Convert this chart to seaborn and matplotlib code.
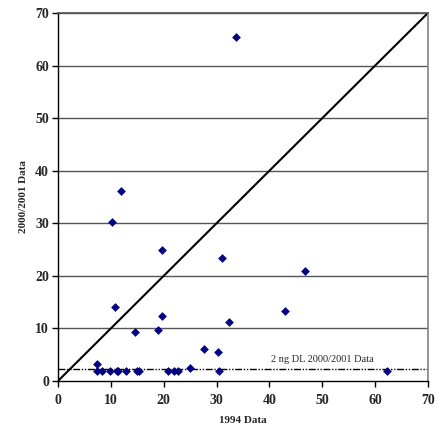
import seaborn as sns
import matplotlib.pyplot as plt
import pandas

# 1994 vs 2000/2001 values
data_1994 = [33.6, 12.0, 10.3, 19.6, 31.1, 46.7, 10.7, 42.9, 19.6, 32.3,
             14.5, 18.9, 27.7, 30.3, 7.3, 25.0,
             7.3, 8.4, 9.9, 11.1, 11.4, 12.8, 15.0, 15.4, 20.9, 22.0, 22.8, 30.5, 62.2]
data_2000 = [65.5, 36.2, 30.2, 25.0, 23.4, 20.9, 14.1, 13.3, 12.3, 11.2,
             9.3, 9.7, 6.1, 5.5, 3.2, 2.5,
             1.9, 1.9, 1.9, 1.9, 1.9, 1.9, 1.9, 1.9, 1.9, 1.9, 1.9, 1.9, 1.9]
dl_value = 2.3
ticks = [0, 10, 20, 30, 40, 50, 60, 70]

df = pandas.DataFrame({"x": data_1994, "y": data_2000})

sns.set_theme(style="white")
plt.rcParams["font.family"] = ["Liberation Serif", "DejaVu Serif"]

fig = plt.figure(figsize=(4.39, 4.32), dpi=100)
ax = fig.add_axes([0.132, 0.118, 0.843, 0.852])

for t in ticks[1:]:
    ax.axhline(t, color="#555555", lw=1.0, zorder=0)

ax.plot([0, 70], [0, 70], color="black", lw=1.5, zorder=1)
ax.plot([0, 70], [dl_value, dl_value], color="black", lw=1.0,
        dashes=[5, 1.2, 1, 1.2, 1, 1.2], zorder=1)
ax.text(50, dl_value + 0.9, "2 ng DL 2000/2001 Data", fontsize=7.5,
        ha="center", va="bottom")

sns.scatterplot(data=df, x="x", y="y", marker="D", s=20, color="#000080",
                edgecolor="#000080", linewidth=0, ax=ax, zorder=3)

ax.set_xlim(0, 70)
ax.set_ylim(0, 70)
ax.set_xticks(ticks)
ax.set_yticks(ticks)
ax.set_xticklabels([str(t) for t in ticks], fontsize=10, fontweight="bold")
ax.set_yticklabels([str(t) for t in ticks], fontsize=10, fontweight="bold")
ax.tick_params(axis="both", direction="out", length=4, width=1, color="black",
               bottom=True, left=True)
ax.tick_params(axis="x", pad=5)
ax.tick_params(axis="y", pad=2.5)
ax.set_xlabel("1994 Data", fontsize=8, fontweight="bold", labelpad=7)
ax.set_ylabel("2000/2001 Data", fontsize=8, fontweight="bold", labelpad=5)

for side in ["left", "bottom"]:
    ax.spines[side].set_color("black")
    ax.spines[side].set_linewidth(1.0)
ax.spines["top"].set_color("#555555")
ax.spines["right"].set_color("#888888")

plt.savefig("out.png", dpi=100)
